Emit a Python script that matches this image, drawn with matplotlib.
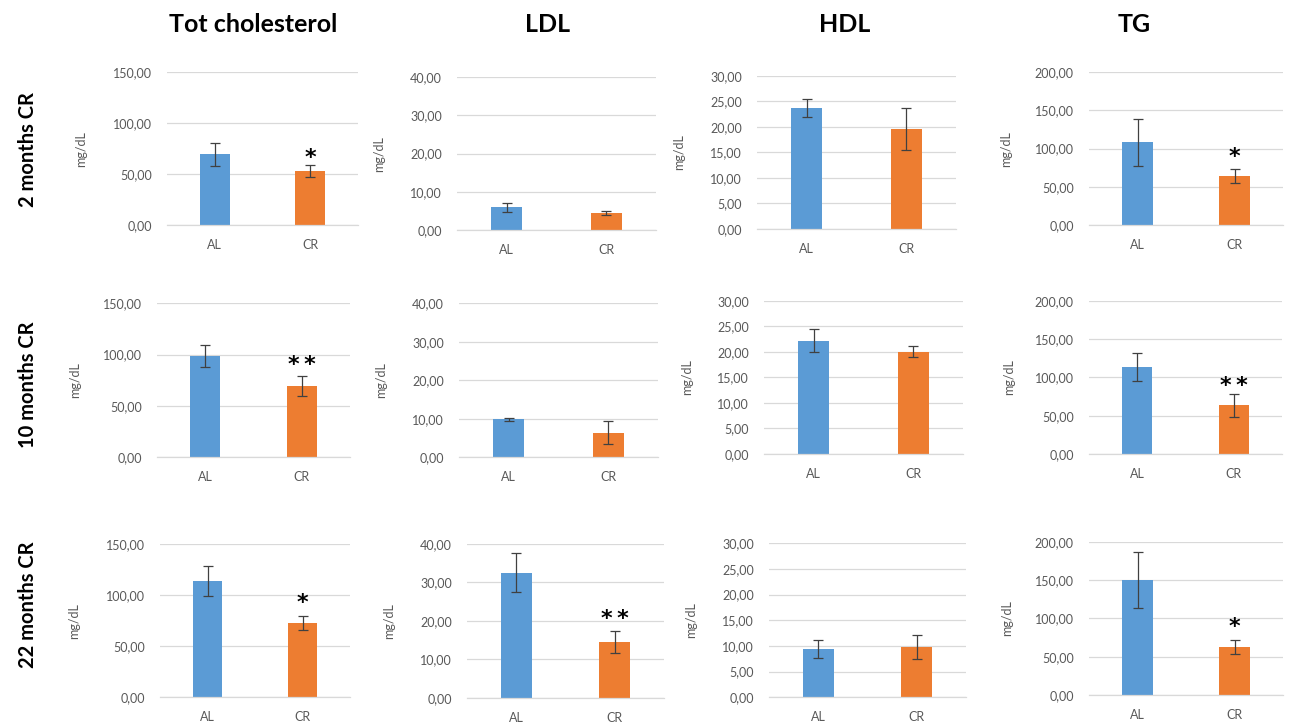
import matplotlib
matplotlib.use("Agg")
import matplotlib.pyplot as plt
import numpy as np

W, H = 1294, 723

# ---------------- data ----------------
groups = ["AL", "CR"]
col_titles = ["Tot cholesterol", "LDL", "HDL", "TG"]
row_titles = ["2 months CR", "10 months CR", "22 months CR"]
ymax = [150, 40, 30, 200]
ystep = [50, 10, 5, 50]

# means [row][col] -> (AL, CR)
tc_means = [(69.5, 53.0), (98.7, 69.5), (113.8, 72.7)]
tc_err = [(11.5, 5.5), (10.7, 9.7), (14.7, 6.5)]
ldl_means = [(6.0, 4.45), (9.85, 6.4), (32.5, 14.5)]
ldl_err = [(1.2, 0.6), (0.45, 3.0), (5.1, 2.9)]
hdl_means = [(23.7, 19.6), (22.2, 20.0), (9.35, 9.8)]
hdl_err = [(1.8, 4.1), (2.3, 1.1), (1.75, 2.3)]
tg_means = [(108.3, 64.6), (113.0, 63.5), (150.0, 62.6)]
tg_err = [(30.6, 9.2), (18.3, 15.2), (37.0, 8.7)]

# significance marks on CR bar: (row, col, label, y value)
stars = [(0, 0, "*", 73.5), (0, 3, "*", 99.0),
         (1, 0, "*\u2009*", 97.4), (1, 3, "*\u2009*", 99.5),
         (2, 0, "*", 100.0), (2, 1, "*\u2009*", 22.6), (2, 3, "*", 99.0)]

means = [tc_means, ldl_means, hdl_means, tg_means]
errs = [tc_err, ldl_err, hdl_err, tg_err]

# ---------------- layout (pixels) ----------------
# (x0, x1, ytop, ybottom) of each plot area
rects = [
    [(167, 358, 72.3, 225), (457, 656, 77.3, 230), (757, 956, 75.7, 229), (1089, 1283, 72.3, 225)],
    [(157, 350, 303.3, 457.3), (459, 658, 303.3, 457.3), (764, 963, 300.7, 454), (1089, 1282, 300.7, 454)],
    [(160, 350, 544, 697.3), (467, 664, 544, 697.7), (769, 966, 543.3, 697.3), (1089, 1283, 541.7, 695)],
]
ylabel_x = [
    [87, 385, 685, 1012],
    [81, 387, 693, 1015],
    [80, 395, 697, 1013],
]
col_title_x = [253, 548, 845, 1134]
row_title_y = [150, 385, 605]

BLUE = "#5B9BD5"
ORANGE = "#ED7D31"
GRID = "#D9D9D9"
TXT = "#595959"
FONT = ["Lato", "DejaVu Sans"]

fig = plt.figure(figsize=(W / 100, H / 100), dpi=100)
fig.patch.set_facecolor("white")


def fmt(v):
    return f"{v:.2f}".replace(".", ",")


for r in range(3):
    for c in range(4):
        x0, x1, yt, yb = rects[r][c]
        ax = fig.add_axes([x0 / W, (H - yb) / H, (x1 - x0) / W, (yb - yt) / H])
        m = means[c][r]
        e = errs[c][r]
        xpos = np.arange(len(groups))
        ax.bar(xpos, m, width=0.31, color=[BLUE, ORANGE], zorder=2)
        ax.errorbar(xpos, m, yerr=e, fmt="none", ecolor="#404040",
                    elinewidth=0.9, capsize=3.6, capthick=0.9, zorder=3)
        ax.set_xlim(-0.5, 1.5)
        ax.set_ylim(0, ymax[c])
        ticks = np.arange(0, ymax[c] + 0.001, ystep[c])
        ax.set_yticks(ticks)
        ax.set_yticklabels([fmt(t) for t in ticks], fontfamily=FONT, fontsize=9, color=TXT)
        ax.set_xticks(xpos)
        ax.set_xticklabels(groups, fontfamily=FONT, fontsize=9, color=TXT)
        ax.tick_params(axis="both", length=0)
        ax.tick_params(axis="y", pad=11)
        ax.tick_params(axis="x", pad=10)
        ax.grid(axis="y", color=GRID, linewidth=0.9, zorder=0)
        for s in ["top", "right", "left"]:
            ax.spines[s].set_visible(False)
        ax.spines["bottom"].set_color(GRID)
        ax.spines["bottom"].set_linewidth(0.9)
        ax.set_ylabel("mg/dL", fontfamily=FONT, fontsize=9, color=TXT)
        ax.yaxis.set_label_coords((ylabel_x[r][c] - x0) / (x1 - x0), 0.5)
        ax.set_facecolor("none")
        for (sr, sc, lab, yv) in stars:
            if sr == r and sc == c:
                ax.annotate(lab, xy=(1, yv), xytext=(0, -10), textcoords="offset points",
                            ha="center", va="baseline", fontsize=16, fontweight="bold",
                            fontfamily=["DejaVu Sans"], color="black")

for c in range(4):
    fig.text(col_title_x[c] / W, 1 - 25 / H, col_titles[c], ha="center", va="center",
             fontsize=18, fontweight="bold", fontfamily=FONT, color="black")
for r in range(3):
    fig.text(28 / W, 1 - row_title_y[r] / H, row_titles[r], ha="center", va="center",
             rotation=90, fontsize=14.5, fontweight="bold", fontfamily=FONT, color="black")

fig.savefig("out.png", dpi=100, facecolor="white")
